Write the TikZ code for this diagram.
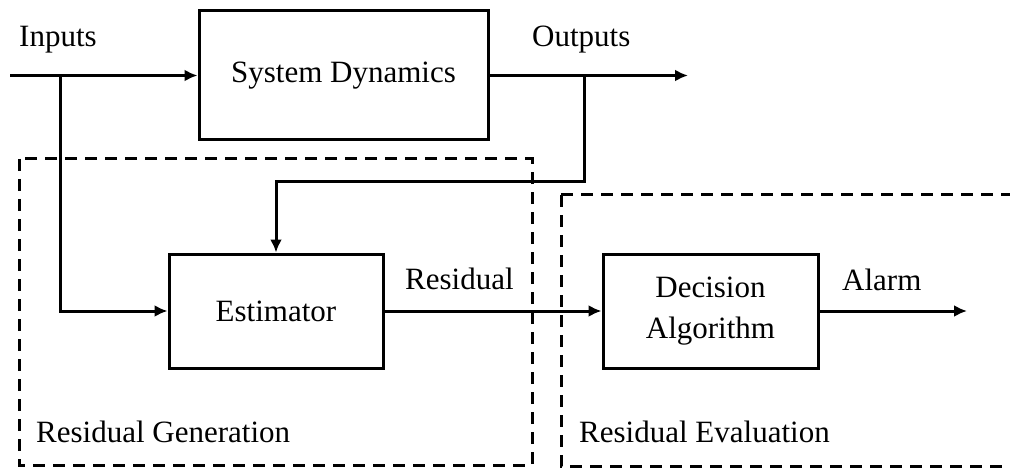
\documentclass[tikz,border=0pt]{standalone}
\usepackage{fontspec}
\setmainfont{Liberation Serif}
\usetikzlibrary{arrows.meta}
\begin{document}
\begin{tikzpicture}[x=1pt,y=-1pt,
  every node/.style={font=\fontsize{31}{41}\selectfont, inner sep=0pt},
  blockbox/.style={draw, line width=3pt, minimum width=#1, minimum height=114pt},
  conn/.style={line width=3pt},
  arr/.style={conn, -{Latex[length=13pt,width=12pt]}},
  groupbox/.style={draw, line width=3pt, dash pattern=on 12pt off 8pt}]
\useasboundingbox (0,0) rectangle (1010,468);
% groups
\draw[groupbox] (19,159) rectangle (532,465);
\draw[groupbox] (561,195) -- (1015,195);
\draw[groupbox] (561,195) -- (561,466) -- (1015,466);
% blocks
\node[blockbox=289pt, minimum height=129pt] (sys) at (343.5,75.5) {System Dynamics};
\node[blockbox=214pt] (est) at (276,311) {Estimator};
\node[blockbox=215pt, align=center] (dec) at (710.5,311) {Decision\\Algorithm};
% coordinates
\coordinate (in) at (10,75.5);
\coordinate (inb) at (60,75.5);
\coordinate (out) at (688,75.5);
\coordinate (outb) at (584,75.5);
\coordinate (alarm) at (967,311);
% connectors
\draw[arr] (in) -- (sys.west);
\draw[arr] (inb) |- (est.west);
\draw[arr] (sys.east) -- (out);
\draw[arr] (outb) -- (584,182) -| (est.north);
\draw[arr] (est.east) -- (dec.west);
\draw[arr] (dec.east) -- (alarm);
% labels
\node[anchor=base west] (linputs) at (19,47) {Inputs};
\node[anchor=base west] (loutputs) at (532,47) {Outputs};
\node[anchor=base west] (lres) at (405,289) {Residual};
\node[anchor=base west] (lalarm) at (842,290) {Alarm};
\node[anchor=base west] (lgen) at (36,442) {Residual Generation};
\node[anchor=base west] (leval) at (579,442) {Residual Evaluation};
\end{tikzpicture}
\end{document}
